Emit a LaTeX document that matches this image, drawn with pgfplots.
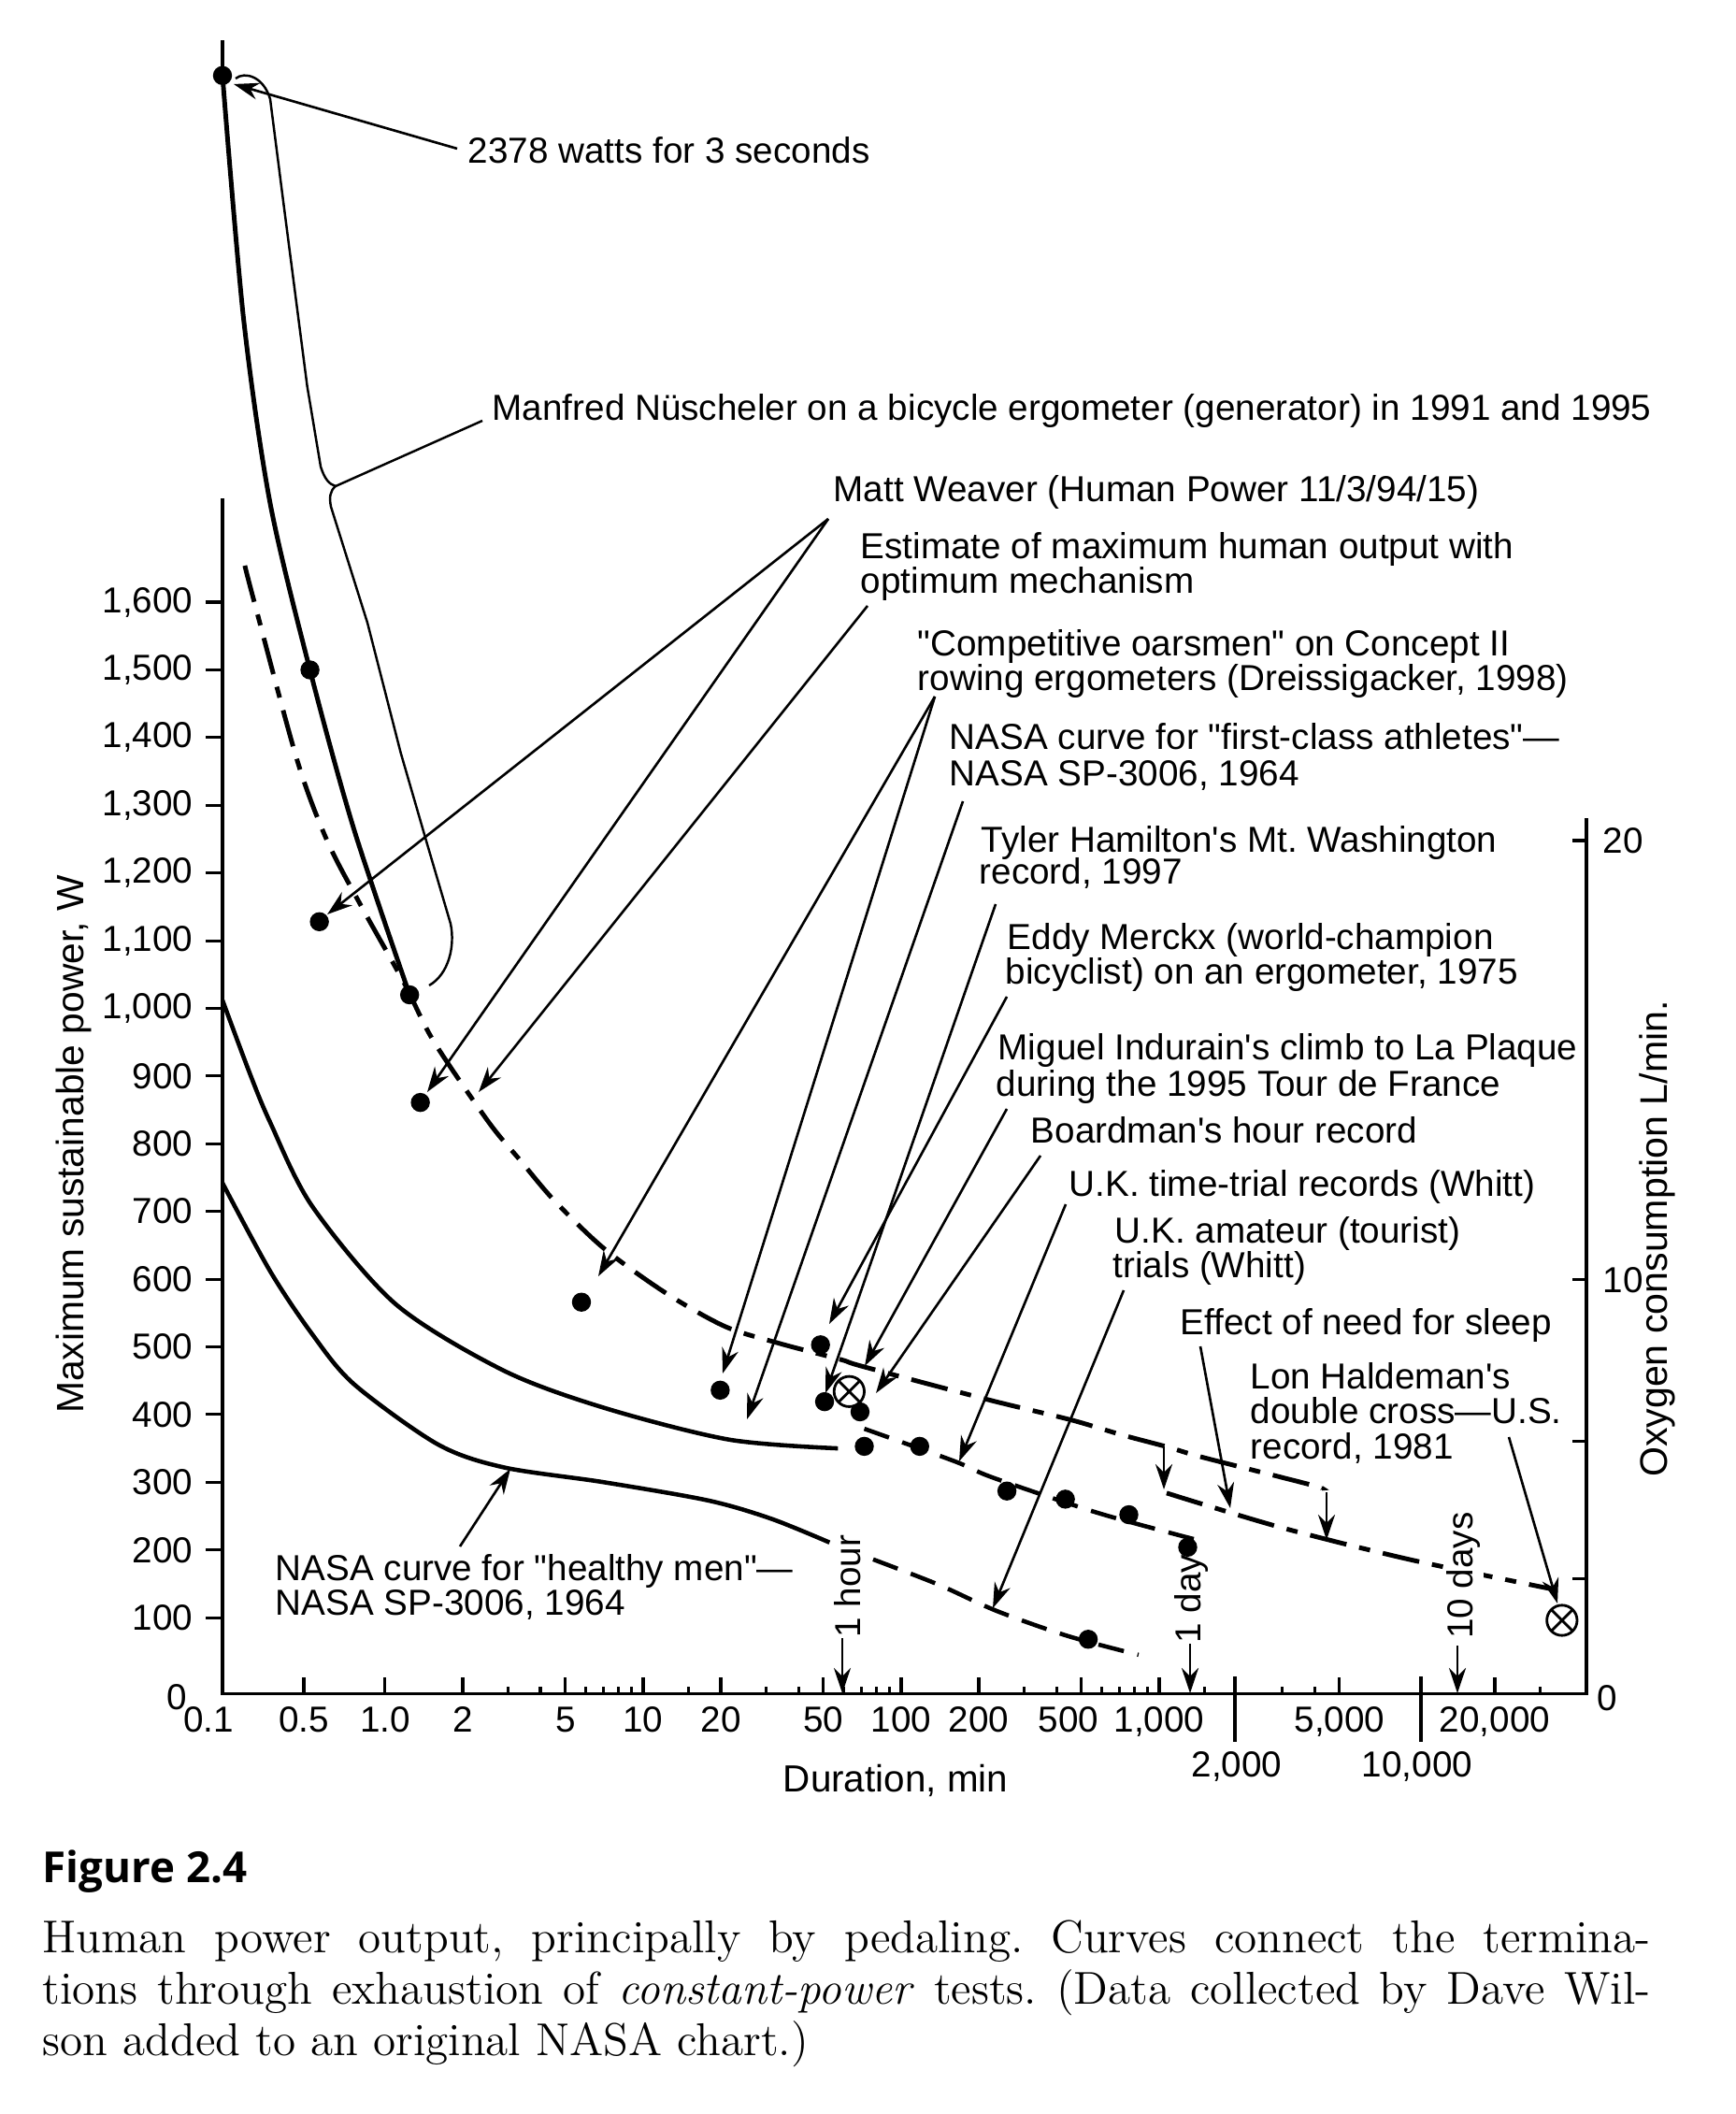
\documentclass[border=0pt]{standalone}
\usepackage{fontspec}
\usepackage{pgfplots}
\pgfplotsset{compat=1.18}
\usetikzlibrary{arrows.meta}
\newfontfamily\lab{Liberation Sans}
\newfontfamily\figsans{Open Sans}
\newcommand\labfont{\lab\fontsize{11}{13}\selectfont}
\newcommand\lbl[3]{\node[anchor=base west,inner sep=0pt] at (#1,#2) {\labfont #3};}
% piecewise duration -> position transform (log above 1 min, compressed below)
\newcommand\mytrafo[1]{%
  \begingroup
  \pgfkeys{/pgf/fpu=true,/pgf/fpu/output format=fixed}%
  \pgfmathparse{(#1<0.5)*(-0.63+(#1-0.1)*0.7875)+(#1>=0.5)*(#1<1)*(-0.315+(#1-0.5)*0.63)+(#1>=1)*ln(max(#1,1))/2.302585093}%
  \xdef\mytrafores{\pgfmathresult}%
  \endgroup
  \let\pgfmathresult\mytrafores
}
\tikzset{
  dd/.style={dash pattern=on 4mm off 1.4mm on 1.2mm off 1.4mm},
  ds/.style={dash pattern=on 2.8mm off 1.5mm},
  arr/.style={line width=0.75pt,-{Stealth[length=2.7mm,width=1.8mm]}},
}
\begin{document}
\frenchspacing
\begin{tikzpicture}
\path[use as bounding box] (0,0) rectangle (185.7mm,226.1mm);
\begin{axis}[
  at={(23.8mm,44.98mm)}, anchor=south west, scale only axis,
  width=145.9mm, height=178.25mm,
  xmin=0.1, xmax=45270, ymin=-12, ymax=2450, clip=false,
  x coord trafo/.code={\mytrafo{#1}},
  axis line style={draw=none},
  xtick pos=left, ytick=\empty, tick align=inside,
  xtick={0.1,0.5,1,2,5,10,20,50,100,200,500,1000,5000,20000},
  xticklabels={\hspace*{-3mm}0.1,0.5,1.0,2,5,10,20,50,100,200,\hspace*{-2.8mm}500,{1,000},{5,000},{20,000}},
  minor xtick={3,4,6,7,8,9,15,30,40,60,70,80,90,300,400,600,700,800,900,1500,3000,4000,30000},
  major tick length=1.7mm, minor tick length=0.75mm,
  tick style={line width=0.9pt,black},
  xticklabel style={font=\labfont,inner sep=0pt,anchor=north,yshift=-1.4mm},
  extra x ticks={2000,10000}, extra x tick labels={{2,000},{10,000}},
  extra x tick style={major tick length=0pt,tick label style={yshift=-4.8mm}},
]
% Nuescheler (solid)
\addplot[black,line width=1.4pt] coordinates {(0.1,2430) (0.1,2378)};
\addplot[black,line width=1.4pt,smooth] coordinates {(0.1,2378) (0.204,2018) (0.334,1747) (0.538,1500) (0.808,1265) (1.245,1020)};
% Estimate of maximum human output (dash-dot)
\addplot[black,line width=1.4pt,smooth,dd] coordinates {(0.21,1654) (0.254,1603) (0.467,1367) (0.643,1248) (0.849,1153) (1.18,1039) (1.54,952) (2.52,832) (3.35,775) (4.53,716) (7.07,645) (12.3,579) (20.8,530) (33.8,505) (58.6,481) (71,471) (217,422) (456,392) (716,370) (1079,352) (1468,337) (3800,297) (4270,291)};
\addplot[black,line width=1.4pt,smooth,dd] coordinates {(1069,284) (2911,234) (9057,187) (25650,151) (33500,142)};
% NASA first-class athletes
\addplot[black,line width=1.3pt,smooth] coordinates {(0.1,1012) (0.233,905) (0.334,832) (0.551,708) (1.10,563) (2.88,465) (7.05,410) (21.5,363) (56.9,350)};
\addplot[black,line width=1.3pt,smooth,ds] coordinates {(72,379) (161,331) (226,307) (553,257) (1060,227) (1396,215)};
% NASA healthy men
\addplot[black,line width=1.3pt,smooth] coordinates {(0.1,742) (0.334,612) (0.551,519) (0.808,445) (1.60,356) (2.88,322) (7.05,300) (17.9,273) (31.4,246) (52.8,211)};
\addplot[black,line width=1.3pt,smooth,ds] coordinates {(77.9,186) (139,149) (234,110) (441,73) (832,45)};
% data points
\addplot[only marks,mark=*,mark size=2.7pt,black] coordinates {(0.1,2378) (0.538,1500) (1.245,1020) (0.596,1128) (1.37,861) (5.77,566) (19.9,436) (48.7,503) (50.5,419) (69.3,404) (72,353) (118,353) (257,287) (433,275) (763,252) (1290,204) (531,68)};
\addplot[only marks,mark=otimes*,mark size=4.6pt,black,mark options={fill=white,line width=0.8pt}] coordinates {(62.9,434) (36400,96)};
\end{axis}
% left y ticks
\begin{axis}[
  at={(23.8mm,44.98mm)}, anchor=south west, scale only axis,
  width=145.9mm, height=178.25mm,
  xmin=0, xmax=1, ymin=-12, ymax=2450,
  axis line style={draw=none}, xtick=\empty,
  ytick={100,200,...,1600}, ytick pos=left, tick align=outside,
  major tick length=1.8mm, tick style={line width=0.9pt,black},
  yticklabel style={font=\labfont,inner sep=0pt,xshift=-1.3mm},
  /pgf/number format/.cd, 1000 sep={,}, assume math mode=true,
]
\addplot[draw=none] coordinates {(0,0)};
\end{axis}
% right oxygen axis ticks
\begin{axis}[
  at={(23.8mm,44.98mm)}, anchor=south west, scale only axis,
  width=145.9mm, height=178.25mm,
  xmin=0, xmax=1, ymin=-12, ymax=2450,
  axis line style={draw=none}, xtick=\empty,
  ytick={158,360,599,1248}, yticklabels={{},{},10,20},
  ytick pos=right, tick align=inside,
  major tick length=1.5mm, tick style={line width=0.9pt,black},
  yticklabel style={font=\labfont,inner sep=0pt,xshift=1.7mm},
]
\addplot[draw=none] coordinates {(0,0)};
\end{axis}
\begin{scope}[x=0.1mm,y=-0.1mm,shift={(0mm,226.1mm)}]
% axis lines
\draw[line width=0.9pt] (238,533) -- (238,1811.2) -- (1697,1811.2) -- (1697,875);
\draw[line width=0.9pt] (1321,1793) -- (1321,1863);
\draw[line width=0.9pt] (1520,1793) -- (1520,1863);
\node[anchor=east,inner sep=0pt] at (201,1815) {\labfont 0};
\node[anchor=west,inner sep=0pt] at (1708,1816) {\labfont 0};
% axis titles
\node[rotate=90,inner sep=0pt] at (79,1224) {\lab\fontsize{11.6}{14}\selectfont Maximum sustainable power, W};
\node[rotate=90,inner sep=0pt] at (1773,1325) {\lab\fontsize{11.7}{14}\selectfont Oxygen consumption L/min.};
\node[anchor=base,inner sep=0pt] at (958,1916) {\lab\fontsize{11.5}{14}\selectfont Duration, min};
% time markers
\node[rotate=90,anchor=west,inner sep=0pt] at (907,1752) {\labfont 1 hour};
\node[rotate=90,anchor=west,inner sep=0pt] at (1274,1758) {\labfont 1 day};
\node[rotate=90,anchor=west,inner sep=1pt,fill=white] at (1565,1757) {\labfont 10 days};
\draw[arr] (901,1752) -- (901,1811);
\draw[arr] (1273,1758) -- (1273,1811);
\draw[arr] (1559,1760) -- (1559,1811);
% Nuescheler bracket and leaders
\draw[arr] (489,159) -- (250,90);
\draw[line width=0.7pt] (252,84) .. controls (262,76) and (282,82) .. (289,106) -- (303.6,220) -- (328.6,413) -- (343,499) .. controls (347,512) and (352,518) .. (359,520);
\draw[line width=0.7pt] (359,520) .. controls (353,525) and (352,532) .. (354,542) -- (393,666) -- (428.6,805) -- (457,903) -- (482,988) .. controls (487,1012) and (480,1042) .. (459,1054);
\draw[line width=0.7pt] (516,450) -- (359,520);
% annotation arrows
\draw[arr] (886,555) -- (350,978);
\draw[arr] (886,555) -- (457,1168);
\draw[arr] (928,648) -- (512,1168);
\draw[arr] (1000,745) -- (640,1365);
\draw[arr] (1000,745) -- (773,1469);
\draw[arr] (1030,857) -- (799,1518);
\draw[arr] (1065,967) -- (883,1490);
\draw[arr] (1077,1066) -- (887,1416);
\draw[arr] (1077,1186) -- (925,1461);
\draw[arr] (1113,1236) -- (937,1490);
\draw[arr] (1140,1288) -- (1026,1563);
\draw[arr] (1202,1380) -- (1062,1720);
\draw[arr] (1284,1440) -- (1316,1613);
\draw[arr] (1614,1537) -- (1666,1715);
\draw[arr] (492,1654) -- (546,1571);
\draw[arr] (1245,1547) -- (1245,1593);
\draw[arr] (1419,1596) -- (1419,1647);
% labels
\lbl{500}{175}{2378 watts for 3 seconds}
\lbl{526}{450}{Manfred Nüscheler on a bicycle ergometer (generator) in 1991 and 1995}
\lbl{891}{537}{Matt Weaver (Human Power 11/3/94/15)}
\lbl{920}{598}{Estimate of maximum  human output with}
\lbl{920}{635}{optimum mechanism}
\lbl{981}{702}{"Competitive oarsmen" on Concept II}
\lbl{981}{739}{rowing ergometers (Dreissigacker, 1998)}
\lbl{1015}{802}{NASA curve for "first-class athletes"—}
\lbl{1015}{841}{NASA SP-3006, 1964}
\lbl{1049}{912}{Tyler Hamilton's Mt. Washington}
\lbl{1047}{946}{record, 1997}
\lbl{1077}{1016}{Eddy Merckx (world-champion}
\lbl{1075}{1053}{bicyclist) on an ergometer, 1975}
\lbl{1067}{1134}{Miguel Indurain's climb to La Plaque}
\lbl{1065}{1173}{during the 1995 Tour de France}
\lbl{1102}{1223}{Boardman's hour record}
\lbl{1143}{1280}{U.K. time-trial records (Whitt)}
\lbl{1192}{1330}{U.K. amateur (tourist)}
\lbl{1190}{1367}{trials (Whitt)}
\lbl{1262}{1427}{Effect of need for sleep}
\lbl{1337}{1485}{Lon Haldeman's}
\lbl{1337}{1522}{double cross—U.S.}
\lbl{1337}{1560}{record, 1981}
\lbl{294}{1690}{NASA curve for "healthy men"—}
\lbl{294}{1727}{NASA SP-3006, 1964}
% caption
\node[anchor=base west,inner sep=0pt] at (45,2013) {\figsans\bfseries\fontsize{13}{15}\selectfont Figure 2.4};
\node[anchor=base west,inner sep=0pt] at (45,2088) {\fontsize{14}{16}\selectfont\makebox[172mm][s]{Human power output, principally by pedaling. Curves connect the termina-}};
\node[anchor=base west,inner sep=0pt] at (45,2143) {\fontsize{14}{16}\selectfont\makebox[172mm][s]{tions through exhaustion of \textit{constant-power} tests. (Data collected by Dave Wil-}};
\node[anchor=base west,inner sep=0pt] at (45,2198) {\fontsize{14}{16}\selectfont son added to an original NASA chart.)};
\end{scope}
\end{tikzpicture}
\end{document}
